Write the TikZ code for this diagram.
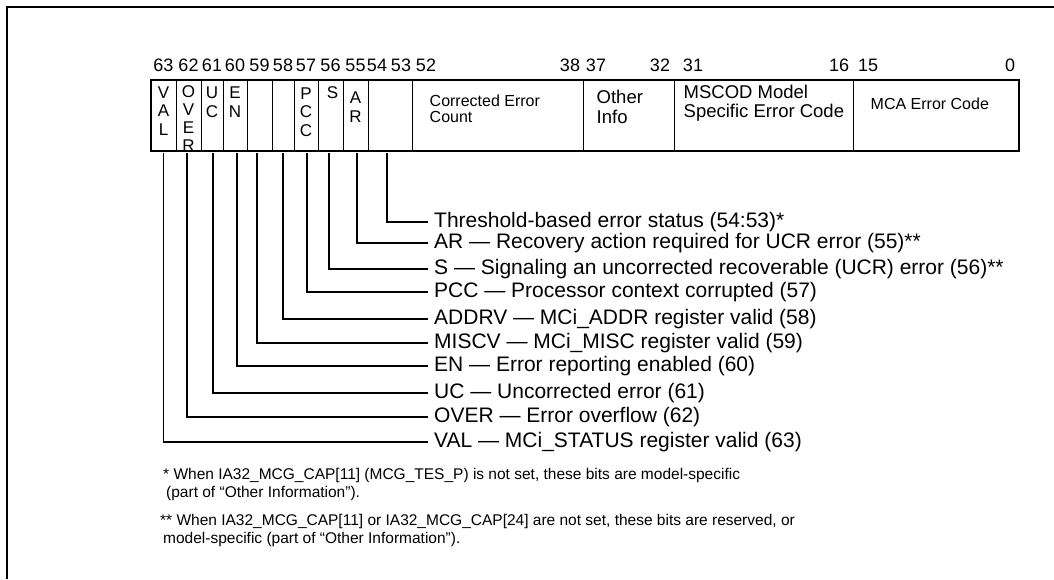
\documentclass[tikz,border=0pt]{standalone}
\usepackage{fontspec}
\setmainfont{Liberation Sans}
\usetikzlibrary{positioning}

\begin{document}
\begin{tikzpicture}[
    x=1pt, y=-1pt,
    every node/.style={inner sep=0pt},
    cell/.style={draw, line width=1pt, minimum height=70pt},
    bitno/.style={font=\fontsize{18}{18}\selectfont},
    flag/.style={font=\fontsize{17}{17}\selectfont, align=center},
    fieldtxt/.style={font=\fontsize{16}{16}\selectfont, align=left},
    bigtxt/.style={font=\fontsize{18.5}{19.5}\selectfont, align=left},
    desc/.style={font=\fontsize{21}{24}\selectfont, anchor=west,
                 inner xsep=6pt, inner ysep=2pt},
    note/.style={font=\fontsize{15.5}{18}\selectfont, anchor=base west},
    leader/.style={line width=1.1pt},
]
\useasboundingbox (0,0) rectangle (1054,579);

% outer figure frame (cut at right and bottom)
\draw[line width=2.5pt] (7,579) -- (7,7) -- (1054,7);

% ===== register fields =====
\foreach \n/\l/\r in {val/151/176, over/176/201, uc/201/223, en/223/247,
    miscv/247/272, addrv/272/294, pcc/294/318, s/318/343, ar/343/368,
    tes/368/412, cec/412/583, oinfo/583/674, mscod/674/853, mcacod/853/1018}
  \node[cell, minimum width={\r pt-\l pt}] (\n) at ({(\l+\r)/2},115) {};
\draw[line width=2pt] (val.north west) rectangle (mcacod.south east);

% bit numbers
\foreach \x/\b in {163.5/63, 188.5/62, 212/61, 235/60, 259.5/59, 283/58,
    306/57, 330.5/56, 355.5/55, 377/54, 401/53, 426/52, 570/38, 596/37,
    660/32, 693/31, 839/16, 868/15, 1010/0}
  \node[bitno] (b\b) at (\x,65) {\b};

% flag letters
\node[flag, below=7pt of val.north]  (tval)  {V\\[1.5pt]A\\[1.5pt]L};
\node[flag, below=6pt of over.north] (tover) {O\\[1pt]V\\[1pt]E\\[1pt]R};
\node[flag, below=7pt of uc.north]   (tuc)   {U\\[2pt]C};
\node[flag, below=7pt of en.north]   (ten)   {E\\[2pt]N};
\node[flag, below=8pt of pcc.north]  (tpcc)  {P\\[1.5pt]C\\[1.5pt]C};
\node[flag, below=7pt of s.north, xshift=2pt] (ts) {S};
\node[flag, below=12pt of ar.north]  (tar)   {A\\[2pt]R};

% field names
\node[fieldtxt, below right=15pt and 18pt of cec.north west] (tcec)
      {Corrected Error\\Count};
\node[bigtxt, below right=10pt and 14pt of oinfo.north west] (toinfo)
      {Other\\[1pt]Info};
\node[bigtxt, below right=5pt and 10pt of mscod.north west] (tmscod)
      {MSCOD Model\\Specific Error Code};
\node[fieldtxt, below right=18pt and 18pt of mcacod.north west] (tmcacod)
      {MCA Error Code};

% ===== bit descriptions =====
\node[desc] (dtes)   at (428,222) {Threshold-based error status (54:53)*};
\node[desc] (dar)    at (428,243) {AR — Recovery action required for UCR error (55)**};
\node[desc] (ds)     at (428,269) {S — Signaling an uncorrected recoverable (UCR) error (56)**};
\node[desc] (dpcc)   at (428,292) {PCC — Processor context corrupted (57)};
\node[desc] (daddrv) at (428,319) {ADDRV — MCi\_ADDR register valid (58)};
\node[desc] (dmiscv) at (428,343) {MISCV — MCi\_MISC register valid (59)};
\node[desc] (den)    at (428,366) {EN — Error reporting enabled (60)};
\node[desc] (duc)    at (428,393) {UC — Uncorrected error (61)};
\node[desc] (dover)  at (428,417) {OVER — Error overflow (62)};
\node[desc] (dval)   at (428,442) {VAL — MCi\_STATUS register valid (63)};

% leaders
\foreach \f/\dx in {val/0, over/-1.5, uc/1, en/2, miscv/-2.5, addrv/0,
    pcc/1, s/-1.5, ar/1.5, tes/-3}
  \draw[leader] ([xshift=\dx pt, yshift=-2pt]\f.south) |- (d\f.west);

% footnotes
\node[note] (fn1)  at (163,479) {* When IA32\_MCG\_CAP[11] (MCG\_TES\_P) is not set, these bits are model-specific};
\node[note] (fn1b) at (166,497) {(part of “Other Information”).};
\node[note] (fn2)  at (160,525) {** When IA32\_MCG\_CAP[11] or IA32\_MCG\_CAP[24] are not set, these bits are reserved, or};
\node[note] (fn2b) at (163,543) {model-specific (part of “Other Information”).};

\end{tikzpicture}
\end{document}
